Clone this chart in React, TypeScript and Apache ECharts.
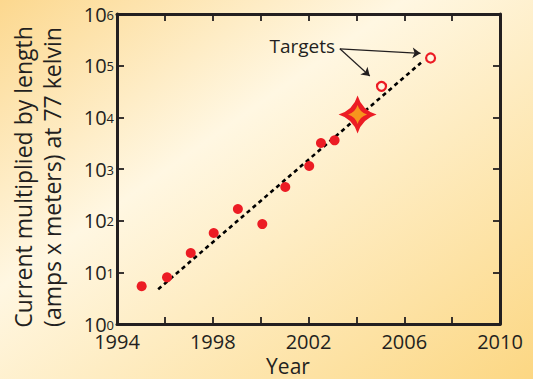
import React, { useEffect, useRef } from "react";
import * as echarts from "echarts";

const FONT = "'Open Sans', 'Noto Sans', sans-serif";
const INK = "#231f20";
const RED = "#ec1c24";
const ORANGE = "#f7941d";

// Measured points: [year, current x length in A·m]
const measuredYears = [1995.03, 1996.09, 1997.08, 1998.04, 1999.05, 2000.07, 2001.03, 2002.03, 2002.52, 2003.09];
const measuredValues = [5.4, 8.0, 23.7, 57.7, 168, 86, 448, 1143, 3185, 3590];

// Highlighted result (star marker)
const starYear = [2004.05];
const starValue = [11400];

// Future targets (open circles)
const targetYears = [2005.05, 2007.1];
const targetValues = [39800, 140700];

// Trend line end points
const trendYears = [1995.72, 2006.7];
const trendValues = [4.7, 114000];

// Annotation anchor and arrow tips
const annotationText = "Targets";
const annotationAnchor = [2001.74, 240000];
const arrowStart = [2003.31, 212000];
const arrowTips = [
  [2006.68, 173400],
  [2004.56, 63000],
];

const xTicks = { min: 1994, max: 2010, step: 2, labelStep: 4 };
const yTicks = { min: 1, max: 1e6 };

const yTitleLines = ["Current multiplied by length", "(amps x meters) at 77 kelvin"];
const xTitle = "Year";

const STAR_PATH =
  "path://M0,-10 Q2.3,-2.3 10,0 Q2.3,2.3 0,10 Q-2.3,2.3 -10,0 Q-2.3,-2.3 0,-10 Z";

const zip = (xs: number[], ys: number[]) => xs.map((x, i) => [x, ys[i]]);

export default function App() {
  const ref = useRef<HTMLDivElement>(null);

  useEffect(() => {
    if (!ref.current) return;
    const chart = echarts.init(ref.current, undefined, { renderer: "svg" });

    const tickStyle = { show: true, inside: true, length: 7, lineStyle: { color: INK, width: 1.8 } };
    const axisLine = { show: true, lineStyle: { color: INK, width: 3 } };

    const xBase = {
      type: "value" as const,
      min: xTicks.min,
      max: xTicks.max,
      interval: xTicks.step,
      splitLine: { show: false },
      axisLine,
      axisTick: tickStyle,
    };
    const yBase = {
      type: "log" as const,
      logBase: 10,
      min: yTicks.min,
      max: yTicks.max,
      splitNumber: 6,
      splitLine: { show: false },
      minorTick: { show: false },
      axisLine,
      axisTick: tickStyle,
    };

    chart.setOption({
      animation: false,
      backgroundColor: new echarts.graphic.LinearGradient(0, 0, 1, 1, [
        { offset: 0, color: "#fcd88f" },
        { offset: 0.38, color: "#fff7e2" },
        { offset: 1, color: "#fcd783" },
      ]),
      grid: { left: 117, right: 33, top: 14, bottom: 55 },
      xAxis: [
        {
          ...xBase,
          position: "bottom",
          axisLabel: {
            margin: 9,
            fontFamily: FONT,
            fontSize: 20,
            lineHeight: 16,
            color: INK,
            formatter: (v: number) =>
              (v - xTicks.min) % xTicks.labelStep === 0 ? String(v) : "",
          },
        },
        { ...xBase, position: "top", axisLabel: { show: false } },
      ],
      yAxis: [
        {
          ...yBase,
          position: "left",
          axisLabel: {
            margin: 3,
            formatter: (v: number) => `{b|10}{s|${Math.round(Math.log10(v))}}`,
            rich: {
              b: { fontFamily: FONT, fontSize: 20, lineHeight: 12, color: INK },
              s: { fontFamily: FONT, fontSize: 13, lineHeight: 12, color: INK, verticalAlign: "top" },
            },
          },
        },
        { ...yBase, position: "right", axisLabel: { show: false } },
      ],
      graphic: [
        {
          type: "text",
          x: 23,
          y: 177,
          rotation: Math.PI / 2,
          style: {
            text: yTitleLines[0],
            fontFamily: FONT,
            fontSize: 23,
            fill: INK,
            align: "center",
            verticalAlign: "middle",
          },
        },
        {
          type: "text",
          x: 52,
          y: 177,
          rotation: Math.PI / 2,
          style: {
            text: yTitleLines[1],
            fontFamily: FONT,
            fontSize: 23,
            fill: INK,
            align: "center",
            verticalAlign: "middle",
          },
        },
        {
          type: "text",
          x: 288,
          y: 366,
          style: {
            text: xTitle,
            fontFamily: FONT,
            fontSize: 21,
            lineHeight: 22,
            fill: INK,
            align: "center",
            verticalAlign: "middle",
          },
        },
      ],
      series: [
        {
          type: "line",
          data: zip(trendYears, trendValues),
          showSymbol: false,
          symbol: "none",
          lineStyle: { color: "#000", width: 2.6, type: [4.2, 3.6] },
          z: 2,
        },
        {
          type: "scatter",
          data: zip(measuredYears, measuredValues),
          symbol: "circle",
          symbolSize: 10,
          itemStyle: { color: RED, opacity: 1 },
          z: 3,
        },
        {
          type: "scatter",
          data: zip(starYear, starValue),
          symbol: STAR_PATH,
          symbolSize: 38,
          itemStyle: { color: RED, opacity: 1 },
          z: 4,
        },
        {
          type: "scatter",
          data: zip(starYear, starValue),
          symbol: STAR_PATH,
          symbolSize: 19,
          itemStyle: { color: ORANGE, opacity: 1 },
          z: 5,
        },
        {
          type: "scatter",
          data: zip(targetYears, targetValues),
          symbol: "circle",
          symbolSize: 9,
          itemStyle: { color: "#fff6e0", borderColor: RED, borderWidth: 2.2, opacity: 1 },
          z: 4,
          markLine: {
            silent: true,
            symbol: ["none", "arrow"],
            symbolSize: 8,
            label: { show: false },
            lineStyle: { color: INK, width: 1.2, type: "solid" },
            data: arrowTips.map((tip) => [
              { coord: arrowStart },
              { coord: tip },
            ]),
          },
          markPoint: {
            silent: true,
            symbol: "circle",
            symbolSize: 0,
            label: {
              show: true,
              position: "inside",
              formatter: annotationText,
              fontFamily: FONT,
              fontSize: 19,
              color: INK,
            },
            data: [{ coord: annotationAnchor }],
          },
        },
      ],
    });

    return () => chart.dispose();
  }, []);

  return (
    <div
      ref={ref}
      style={{ position: "absolute", left: 0, top: 0, width: 533, height: 379 }}
    />
  );
}
